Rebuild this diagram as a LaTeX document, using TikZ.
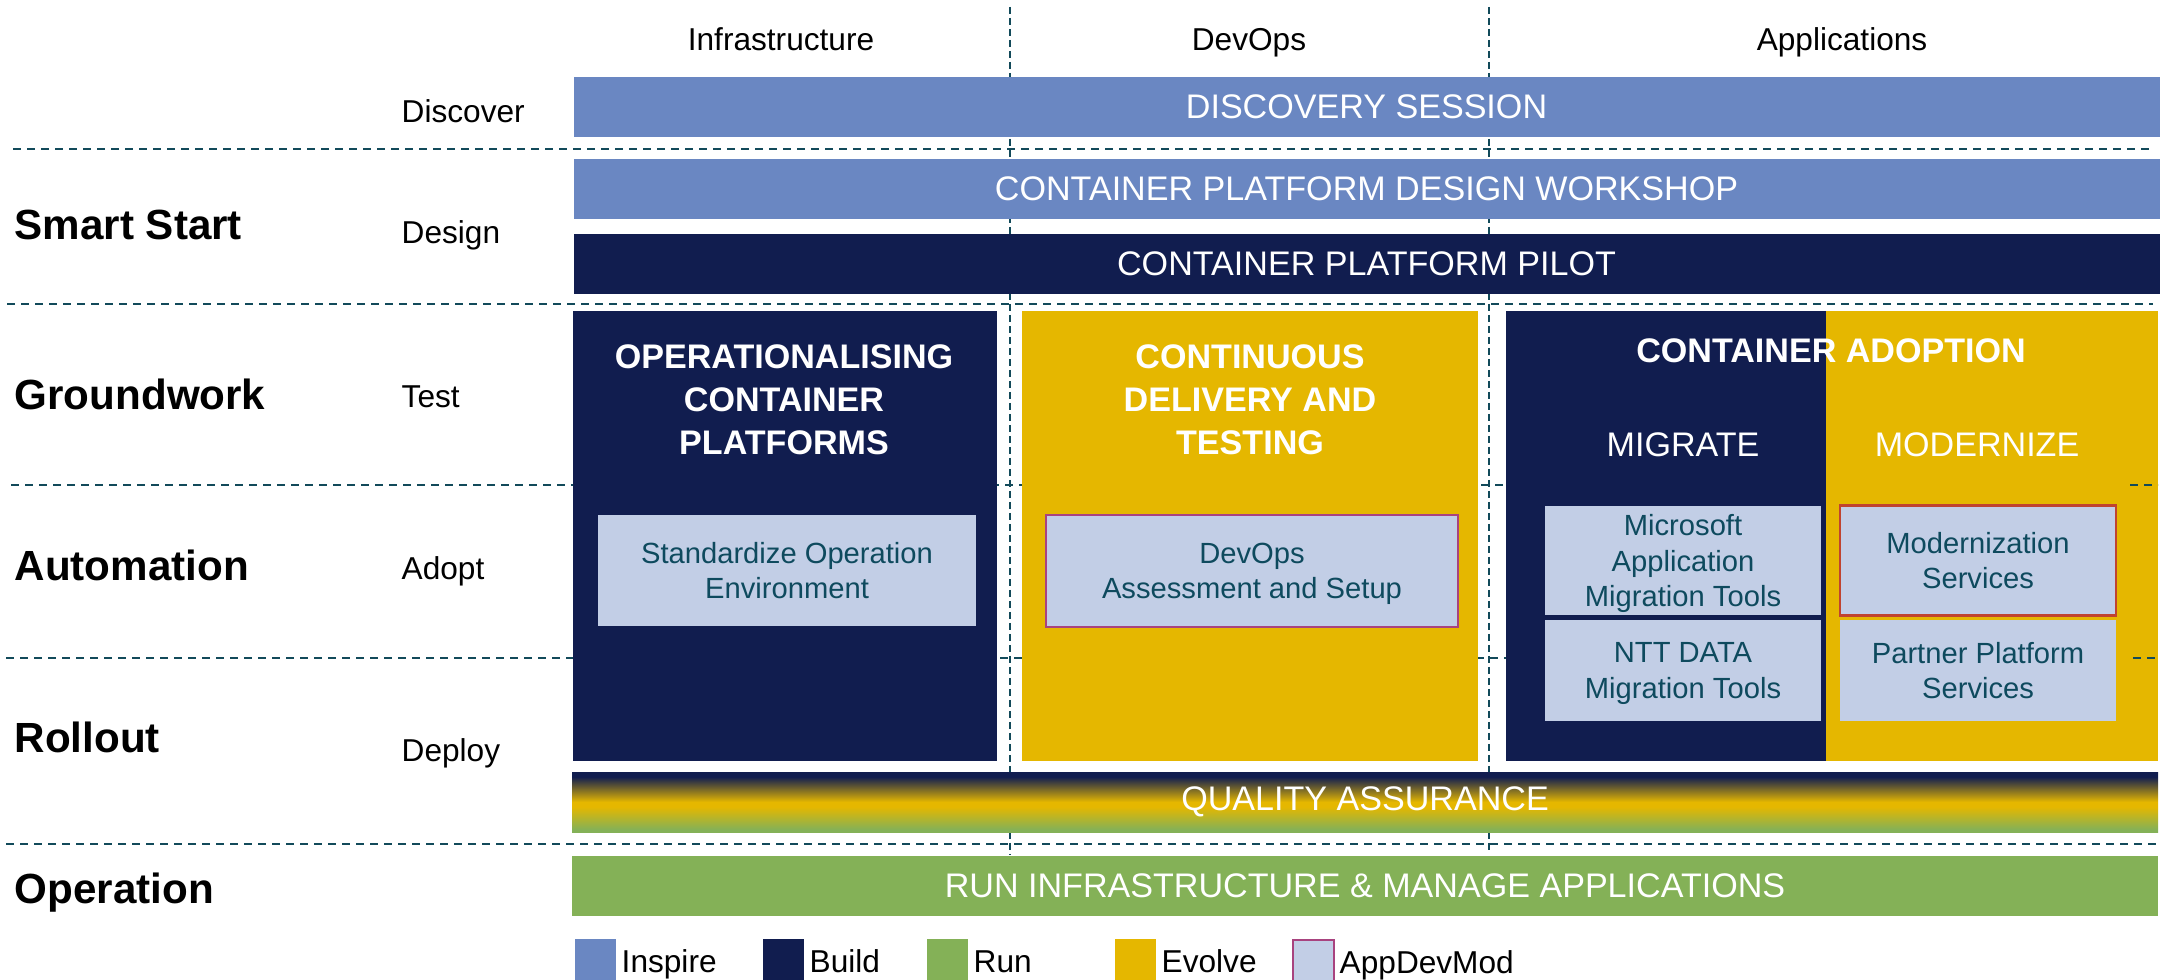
\documentclass[tikz,border=0pt]{standalone}
\usepackage{fontspec}
\setmainfont{Liberation Sans}
\usepackage{tikz}
\usetikzlibrary{positioning}

\definecolor{inspire}{HTML}{6A87C2}
\definecolor{build}{HTML}{111D4F}
\definecolor{run}{HTML}{84B157}
\definecolor{evolve}{HTML}{E5B700}
\definecolor{pale}{HTML}{C2CEE6}
\definecolor{paleink}{HTML}{0E4A5E}
\definecolor{appdev}{HTML}{A8437F}
\definecolor{modred}{HTML}{C0432F}
\definecolor{rule}{HTML}{124A5A}

\pgfdeclareverticalshading{qashade}{100bp}{color(0bp)=(run); color(27bp)=(run); color(46bp)=(evolve); color(50bp)=(evolve); color(71bp)=(build); color(100bp)=(build)}

\begin{document}
\begin{tikzpicture}[x=1mm, y=-1mm,
    bar/.style={minimum width=158.6mm, minimum height=6mm, inner sep=0pt, outer sep=0pt, text=white, font=\fontsize{9.7}{11.6}\selectfont},
    block/.style={minimum width=#1, minimum height=45mm, inner sep=0pt, outer sep=0pt},
    blocktitle/.style={text=white, align=center, inner sep=0pt, font=\fontsize{9.7}{12.2}\selectfont\bfseries},
    subtitle/.style={text=white, inner sep=0pt, font=\fontsize{9.7}{12.2}\selectfont},
    tool/.style={fill=pale, text=paleink, align=center, minimum width=#1, inner sep=0pt, outer sep=0pt, text depth=0pt, font=\fontsize{8.3}{10}\selectfont},
    phase/.style={anchor=base west, inner sep=0pt, font=\fontsize{12}{14}\selectfont\bfseries},
    stage/.style={anchor=base west, inner sep=0pt, font=\fontsize{9}{11}\selectfont},
    colhead/.style={anchor=base, inner sep=0pt, font=\fontsize{9}{11}\selectfont},
    swatch/.style={minimum width=4.1mm, minimum height=4.1mm, inner sep=0pt, outer sep=0pt, anchor=north west},
    keytext/.style={anchor=base west, inner sep=0pt, font=\fontsize{9}{11}\selectfont},
    rowline/.style={draw=rule, line width=0.55pt, dash pattern=on 0.8mm off 0.6mm},
    colline/.style={draw=rule, line width=0.4pt, dash pattern=on 0.7mm off 0.4mm}]

    \useasboundingbox (0,0) rectangle (216.4,98);

    \draw[colline] (101.0,0.7) -- (101.0,85.5);
    \draw[colline] (148.9,0.7) -- (148.9,85.0);
    \draw[rowline] (1.3,14.9) -- (214.9,14.9);
    \draw[rowline] (0.7,30.4) -- (215.3,30.4);
    \draw[rowline] (1.1,48.5) -- (215.8,48.5);
    \draw[rowline] (0.6,65.8) -- (215.8,65.8);
    \draw[rowline] (0.6,84.4) -- (215.7,84.4);

    \node[colhead] (infra) at (78.1,5.1) {Infrastructure};
    \node[colhead] (devops) at (124.9,5.1) {DevOps};
    \node[colhead] (apps) at (184.2,5.1) {Applications};

    \node[bar, fill=inspire] (discovery) at (136.65,10.7) {DISCOVERY SESSION};
    \node[bar, fill=inspire] (workshop) [below=2.2mm of discovery] {CONTAINER PLATFORM DESIGN WORKSHOP};
    \node[bar, fill=build] (pilot) [below=1.5mm of workshop] {CONTAINER PLATFORM PILOT};

    \node[block=42.4mm, fill=build] (ops) at (78.5,53.6) {};
    \node[block=45.6mm, fill=evolve] (cd) at (125.0,53.6) {};
    \node[block=32.0mm, fill=build] (migrate) at (166.6,53.6) {};
    \node[block=33.2mm, fill=evolve] (modernize) [right=0mm of migrate] {};

    \node[blocktitle] (opstitle) at (78.4,40.0) {OPERATIONALISING\\CONTAINER\\PLATFORMS};
    \node[blocktitle] (cdtitle) at (125.0,40.0) {CONTINUOUS\\DELIVERY AND\\TESTING};
    \node[blocktitle] (adoption) at (183.1,35.1) {CONTAINER ADOPTION};
    \node[subtitle] (migratetitle) at (168.3,44.5) {MIGRATE};
    \node[subtitle] (modtitle) at (197.7,44.5) {MODERNIZE};

    \node[tool=37.8mm, minimum height=11.1mm] (standard) at (78.7,57.05) {Standardize Operation\\Environment};
    \node[tool=41.2mm, minimum height=11.2mm, draw=appdev, line width=0.75pt] (assess) at (125.2,57.1) {DevOps\\Assessment and Setup};
    \node[tool=27.6mm, minimum height=10.9mm] (mstools) at (168.3,56.05) {Microsoft\\Application\\Migration Tools};
    \node[tool=27.6mm, minimum height=10.1mm] (ntttools) [below=0.5mm of mstools] {NTT DATA\\Migration Tools};
    \node[tool=27.6mm, minimum height=11.0mm, draw=modred, line width=0.75pt] (modservices) at (197.8,56.05) {Modernization\\Services};
    \node[tool=27.6mm, minimum height=10.1mm] (partner) [below=0.45mm of modservices] {Partner Platform\\Services};

    \draw[rowline] (213.0,48.5) -- (215.8,48.5);
    \draw[rowline] (213.3,65.8) -- (215.8,65.8);

    \node[bar, shade, shading=qashade] (qa) at (136.5,80.2) {QUALITY ASSURANCE};
    \node[bar, fill=run] (runbar) [below=2.4mm of qa] {RUN INFRASTRUCTURE \& MANAGE APPLICATIONS};

    \node[phase] (smart) at (1.4,24.0) {Smart Start};
    \node[phase] (ground) at (1.4,41.0) {Groundwork};
    \node[phase] (auto) at (1.4,58.1) {Automation};
    \node[phase] (rollout) at (1.4,75.3) {Rollout};
    \node[phase] (operation) at (1.4,90.3) {Operation};

    \node[stage] (discover) at (40.1,12.3) {Discover};
    \node[stage] (design) at (40.1,24.4) {Design};
    \node[stage] (test) at (40.1,40.8) {Test};
    \node[stage] (adopt) at (40.1,58.0) {Adopt};
    \node[stage] (deploy) at (40.1,76.1) {Deploy};

    \node[swatch, fill=inspire] (sinspire) at (57.5,93.9) {};
    \node[keytext] (kinspire) [right=0.5mm of sinspire.south east, anchor=base west, yshift=0.8mm] {Inspire};
    \node[swatch, fill=build] (sbuild) at (76.3,93.9) {};
    \node[keytext] (kbuild) [right=0.5mm of sbuild.south east, anchor=base west, yshift=0.8mm] {Build};
    \node[swatch, fill=run] (srun) at (92.7,93.9) {};
    \node[keytext] (krun) [right=0.5mm of srun.south east, anchor=base west, yshift=0.8mm] {Run};
    \node[swatch, fill=evolve] (sevolve) at (111.5,93.9) {};
    \node[keytext] (kevolve) [right=0.5mm of sevolve.south east, anchor=base west, yshift=0.8mm] {Evolve};
    \node[swatch, fill=pale, draw=appdev, line width=0.75pt] (sappdev) at (129.3,94.0) {};
    \node[keytext] (kappdev) [right=0.5mm of sappdev.south east, anchor=base west, yshift=0.8mm] {AppDevMod};
\end{tikzpicture}
\end{document}
